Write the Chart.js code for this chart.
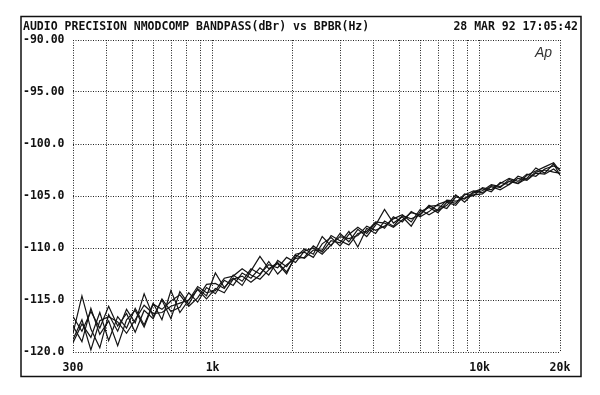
<!DOCTYPE html>
<html>
<head>
<meta charset="utf-8">
<script src="https://cdn.jsdelivr.net/npm/chart.js@4.4.1/dist/chart.umd.min.js"></script>
<style>
  html, body { margin: 0; padding: 0; background: #fff; }
  #plot { display: block; }
</style>
</head>
<body>
<canvas id="plot" width="600" height="395"></canvas>
<script>
// Audio Precision sweep - bandpass level vs frequency, 5 passes

const titleText = 'AUDIO PRECISION NMODCOMP BANDPASS(dBr) vs BPBR(Hz)';
const dateText = '28 MAR 92 17:05:42';

const freqs = [
    300, 324, 350, 378, 408, 441, 476, 513, 554, 599,
    646, 698, 754, 814, 879, 949, 1024, 1106, 1194, 1290,
    1392, 1504, 1623, 1753, 1893, 2044, 2207, 2383, 2573, 2778,
    3000, 3239, 3498, 3777, 4078, 4404, 4755, 5134, 5544, 5986,
    6464, 6979, 7536, 8137, 8786, 9487, 10244, 11061, 11943, 12896,
    13925, 15036, 16236, 17531, 18929, 20000
];

const passA = [
    -118.2, -114.6, -117.8, -119.6, -116.4, -118.0, -115.9, -117.2, -114.4, -116.6,
    -115.0, -116.8, -114.2, -115.4, -113.9, -114.6, -112.4, -113.8, -112.9, -113.6,
    -112.2, -110.8, -112.0, -111.4, -112.3, -110.9, -110.1, -110.6, -108.9, -109.8,
    -108.6, -109.4, -108.2, -108.9, -107.8, -106.3, -107.6, -107.0, -107.9, -106.5,
    -106.1, -106.6, -105.6, -105.9, -104.9, -104.5, -104.7, -104.0, -104.2, -103.4,
    -103.8, -103.0, -102.6, -102.2, -101.8, -102.6
];
const passB = [
    -119.1, -117.3, -118.6, -116.2, -118.9, -116.6, -117.7, -115.8, -117.4, -115.3,
    -116.9, -114.1, -116.2, -115.0, -114.0, -114.9, -113.9, -114.3, -113.0, -112.7,
    -113.3, -112.6, -111.3, -112.5, -111.6, -111.0, -110.9, -109.8, -110.4, -109.3,
    -109.5, -108.4, -109.9, -108.1, -108.6, -107.4, -107.9, -106.9, -107.2, -106.8,
    -106.0, -105.9, -106.2, -105.1, -105.3, -104.6, -104.3, -104.6, -103.7, -103.9,
    -103.3, -103.5, -102.8, -102.9, -102.4, -102.9
];
const passC = [
    -116.6, -118.0, -116.1, -117.7, -115.6, -117.5, -116.3, -118.1, -116.0, -116.8,
    -114.9, -116.1, -115.7, -114.3, -115.2, -113.8, -114.4, -113.1, -113.6, -112.4,
    -112.9, -111.9, -112.6, -111.2, -111.8, -110.6, -110.4, -110.9, -109.6, -109.0,
    -109.8, -108.7, -108.0, -108.6, -107.6, -108.1, -107.0, -107.5, -106.5, -107.0,
    -106.5, -105.8, -105.5, -105.7, -104.8, -105.0, -104.2, -104.4, -103.8, -103.3,
    -103.6, -102.9, -103.1, -102.4, -102.1, -102.4
];
const passD = [
    -117.5, -119.0, -115.8, -118.3, -117.0, -119.4, -116.9, -116.0, -117.6, -115.4,
    -115.9, -115.1, -114.5, -115.6, -114.8, -113.5, -113.4, -113.9, -112.6, -113.2,
    -112.0, -112.5, -111.6, -111.9, -110.9, -111.4, -110.3, -110.0, -110.6, -109.7,
    -108.9, -109.1, -108.8, -107.9, -108.3, -107.9, -107.2, -106.8, -107.5, -106.3,
    -106.8, -106.3, -105.4, -105.5, -105.2, -104.9, -104.8, -104.1, -104.4, -103.9,
    -103.1, -103.4, -102.7, -102.5, -102.7, -102.8
];
const passE = [
    -118.8, -116.9, -119.8, -117.0, -116.6, -117.1, -118.2, -116.9, -115.5, -116.3,
    -116.2, -115.6, -115.3, -115.0, -113.7, -114.3, -114.1, -112.9, -112.7, -112.0,
    -112.6, -113.0, -112.1, -111.5, -112.5, -110.7, -111.0, -110.2, -110.2, -108.8,
    -109.3, -109.7, -108.6, -108.4, -107.5, -107.6, -108.0, -107.3, -106.6, -106.8,
    -105.9, -106.4, -105.9, -104.9, -105.6, -104.7, -104.5, -103.9, -104.1, -103.6,
    -103.8, -103.3, -102.3, -102.8, -101.9, -103.0
];

const xGridFreqs = [300, 400, 500, 600, 700, 800, 900, 1000, 2000, 3000, 4000, 5000,
    6000, 7000, 8000, 9000, 10000, 20000];
const xTickLabels = { 300: '300', 1000: '1k', 10000: '10k', 20000: '20k' };
const yTickLabels = { '-90': '-90.00', '-95': '-95.00', '-100': '-100.0', '-105': '-105.0',
    '-110': '-110.0', '-115': '-115.0', '-120': '-120.0' };

const monoFont = { family: '"DejaVu Sans Mono", monospace', size: 11.5, weight: 'bold' };

const frame = {
    id: 'frame',
    beforeDraw(chart) {
        const ctx = chart.ctx;
        ctx.save();
        ctx.fillStyle = '#fff';
        ctx.fillRect(0, 0, chart.width, chart.height);
        ctx.restore();
    },
    afterDraw(chart) {
        const ctx = chart.ctx;
        ctx.save();
        ctx.strokeStyle = '#111';
        ctx.lineWidth = 1.5;
        ctx.strokeRect(21, 16.5, 560, 360);
        ctx.fillStyle = '#111';
        ctx.font = 'bold 11.5px "DejaVu Sans Mono", monospace';
        ctx.textBaseline = 'middle';
        ctx.textAlign = 'left';
        ctx.fillText(titleText, 23, 27.5);
        ctx.textAlign = 'right';
        ctx.fillText(dateText, 578, 27.5);
        // Ap logo
        ctx.font = 'italic 14px "Liberation Sans", sans-serif';
        ctx.fillStyle = '#333';
        ctx.textAlign = 'left';
        ctx.fillText('Ap', 535, 53);
        ctx.restore();
    }
};

const makeSet = (vals) => ({
    data: freqs.map((f, i) => ({ x: f, y: vals[i] })),
    borderColor: '#151515',
    borderWidth: 1.2,
    pointRadius: 0,
    tension: 0,
    fill: false
});

new Chart(document.getElementById('plot'), {
    type: 'line',
    data: {
        datasets: [passA, passB, passC, passD, passE].map(makeSet)
    },
    options: {
        responsive: false,
        animation: false,
        layout: { padding: { left: 23, top: 40, right: 40, bottom: 17 } },
        plugins: { legend: { display: false }, tooltip: { enabled: false } },
        scales: {
            x: {
                type: 'logarithmic',
                min: 300,
                max: 20000,
                afterBuildTicks: (scale) => {
                    scale.ticks = xGridFreqs.map(v => ({ value: v }));
                },
                afterFit: (scale) => { scale.height = 26; },
                ticks: {
                    autoSkip: false,
                    maxRotation: 0,
                    padding: 9,
                    color: '#111',
                    font: monoFont,
                    callback: (v) => xTickLabels[v] || ''
                },
                grid: { color: '#222', lineWidth: 1, drawTicks: false },
                border: { display: false, dash: [1, 1.5] }
            },
            y: {
                min: -120,
                max: -90,
                afterBuildTicks: (scale) => {
                    scale.ticks = Object.keys(yTickLabels).map(v => ({ value: Number(v) }));
                },
                afterFit: (scale) => { scale.width = 50; },
                ticks: {
                    crossAlign: 'far',
                    padding: 4,
                    color: '#111',
                    font: monoFont,
                    callback: (v) => yTickLabels[v]
                },
                grid: { color: '#222', lineWidth: 1, drawTicks: false },
                border: { display: false, dash: [1, 1.5] }
            }
        }
    },
    plugins: [frame]
});
</script>
</body>
</html>
